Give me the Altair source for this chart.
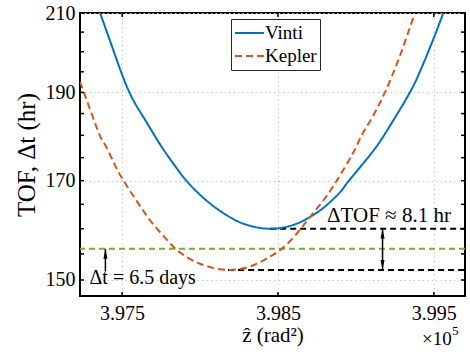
import altair as alt
import pandas as pd

# ---- data (z in units of 1e5 rad^2, TOF in hours) ----
vinti_z = [3.97359, 3.9745, 3.97547, 3.9765, 3.9775, 3.9785, 3.97912, 3.9800, 3.9810,
           3.9820, 3.9830, 3.9845, 3.9860, 3.9870, 3.9880, 3.9890, 3.98951, 3.9910,
           3.9920, 3.9930, 3.99346, 3.9940, 3.9950, 3.9956]
vinti_tof = [210.0, 199.7, 190.0, 183.4, 177.6, 172.7, 170.0, 167.0, 164.3,
             162.2, 160.8, 160.0, 160.8, 162.3, 164.5, 167.6, 169.8, 176.0,
             181.1, 187.0, 190.0, 194.1, 203.5, 210.0]
kepler_z = [3.9723, 3.9735, 3.97387, 3.9745, 3.97504, 3.9760, 3.9770, 3.9780, 3.97846,
            3.9790, 3.9800, 3.9818, 3.9835, 3.9845, 3.98525, 3.9862, 3.98706, 3.9880,
            3.98877, 3.9898, 3.99037, 3.9910, 3.99186, 3.9928, 3.99378]
kepler_tof = [192.6, 180.6, 178.1, 173.7, 170.3, 165.4, 160.9, 157.4, 155.9,
              154.7, 153.1, 151.9, 152.9, 154.5, 156.0, 159.0, 162.4, 166.2,
              170.0, 175.9, 180.0, 183.8, 190.0, 198.7, 210.0]
series_names = ["Vinti", "Kepler"]
series_colors = ["#0072BD", "#D95319"]

dt_hours = 156.0           # 6.5 days
vinti_min = [3.9845, 160.0]
kepler_min = [3.9818, 151.9]

z_domain = [3.9723, 3.997]
tof_domain = [147, 210]
z_ticks = [3.975, 3.985, 3.995]
tof_ticks = [150, 170, 190, 210]
tof_minor = [150, 155, 160, 165, 170, 175, 180, 185, 190, 195, 200, 205, 210]

arrow_z = 3.99171
dt_arrow = [3.97393, 151.6]
dtof_label = [3.98815, 161.4, "ΔTOF ≈ 8.1 hr"]
dt_label = [3.97291, 149.2, "Δt = 6.5 days"]

FONT = "Liberation Serif"
W, H = 385, 283

curves = pd.DataFrame(
    [{"z": z, "tof": t, "series": "Vinti"} for z, t in zip(vinti_z, vinti_tof)]
    + [{"z": z, "tof": t, "series": "Kepler"} for z, t in zip(kepler_z, kepler_tof)]
)

xs = alt.Scale(domain=z_domain, nice=False, zero=False)
ys = alt.Scale(type="log", domain=tof_domain, nice=False, zero=False)
xaxis = alt.Axis(values=z_ticks, format=".3f", ticks=False, tickSize=0, domain=False,
                 labelPadding=7, title="ẑ (rad²)", titlePadding=1, titleFontSize=21,
                 titleColor="black")
yaxis = alt.Axis(values=tof_ticks, format="d", ticks=False, tickSize=0, domain=False,
                 labelPadding=5, title="TOF, Δt (hr)", titlePadding=6, titleFontSize=25,
                 titleColor="black")
X = alt.X("z:Q", scale=xs, axis=xaxis)
Y = alt.Y("tof:Q", scale=ys, axis=yaxis)

lines = alt.Chart(curves).mark_line(strokeWidth=2, clip=True, interpolate="natural").encode(
    x=X, y=Y,
    color=alt.Color("series:N", title=None,
                    scale=alt.Scale(domain=series_names, range=series_colors)),
    strokeDash=alt.StrokeDash("series:N", title=None,
                              scale=alt.Scale(domain=series_names, range=[[1, 0], [7, 4]])),
    order=alt.Order("z:Q"),
)

green = alt.Chart(pd.DataFrame({"tof": [dt_hours]})).mark_rule(
    color="#77AC30", strokeWidth=2, strokeDash=[6, 4]).encode(y=Y)

black_df = pd.DataFrame({"z": [vinti_min[0], kepler_min[0]],
                         "z2": [z_domain[1], z_domain[1]],
                         "tof": [vinti_min[1], kepler_min[1]]})
black = alt.Chart(black_df).mark_rule(color="black", strokeWidth=2, strokeDash=[6, 4]).encode(
    x=X, x2="z2:Q", y=Y)

arr_df = pd.DataFrame({"z": [arrow_z], "tof": [kepler_min[1]], "tof2": [vinti_min[1]]})
arrow_rule = alt.Chart(arr_df).mark_rule(color="black", strokeWidth=1.5).encode(
    x=X, y=Y, y2="tof2:Q")
head_up_df = pd.DataFrame({"z": [arrow_z, dt_arrow[0]], "tof": [vinti_min[1], dt_hours]})
head_up = alt.Chart(head_up_df).mark_point(
    shape="M0,-1L-0.4,1L0.4,1Z", filled=True, color="black", opacity=1, size=100,
    yOffset=5).encode(x=X, y=Y)
head_dn = alt.Chart(pd.DataFrame({"z": [arrow_z], "tof": [kepler_min[1]]})).mark_point(
    shape="M0,1L-0.4,-1L0.4,-1Z", filled=True, color="black", opacity=1, size=100,
    yOffset=-5).encode(x=X, y=Y)
dt_rule = alt.Chart(pd.DataFrame({"z": [dt_arrow[0]], "tof": [dt_arrow[1]], "tof2": [dt_hours]})).mark_rule(
    color="black", strokeWidth=1.5).encode(x=X, y=Y, y2="tof2:Q")

labels_df = pd.DataFrame({"z": [dtof_label[0], dt_label[0]],
                          "tof": [dtof_label[1], dt_label[1]],
                          "txt": [dtof_label[2], dt_label[2]],
                          "fs": [21, 20]})
labels = alt.Chart(labels_df).mark_text(align="left", baseline="alphabetic", font=FONT,
                                        color="black").encode(
    x=X, y=Y, text="txt:N", size=alt.Size("fs:Q", scale=None, legend=None))

ytick_df = pd.DataFrame({"tof": tof_minor})
ytl = alt.Chart(ytick_df).mark_rule(color="black", strokeWidth=1.5).encode(
    y=Y, x=alt.value(0), x2=alt.value(4))
ytr = alt.Chart(ytick_df).mark_rule(color="black", strokeWidth=1.5).encode(
    y=Y, x=alt.value(W), x2=alt.value(W - 4))
xtick_df = pd.DataFrame({"z": z_ticks})
xtb = alt.Chart(xtick_df).mark_rule(color="black", strokeWidth=1.5).encode(
    x=X, y=alt.value(H), y2=alt.value(H - 4))
xtt = alt.Chart(xtick_df).mark_rule(color="black", strokeWidth=1.5).encode(
    x=X, y=alt.value(0), y2=alt.value(4))

mult = alt.Chart(pd.DataFrame({"t": ["×10"]})).mark_text(
    align="left", baseline="alphabetic", font=FONT, fontSize=19, color="black").encode(
    x=alt.value(342), y=alt.value(332), text="t:N")
expo = alt.Chart(pd.DataFrame({"t": ["5"]})).mark_text(
    align="left", baseline="alphabetic", font=FONT, fontSize=13, color="black").encode(
    x=alt.value(372), y=alt.value(322), text="t:N")

chart = alt.layer(
    green, black, lines, arrow_rule, head_up, head_dn, dt_rule, labels,
    ytl, ytr, xtb, xtt, mult, expo
).properties(
    width=W, height=H, autosize="none",
    padding={"left": 80, "top": 13, "right": 5, "bottom": 65},
).configure_view(
    stroke="black", strokeWidth=2
).configure_axis(
    labelFont=FONT, labelFontSize=20, labelColor="black",
    titleFont=FONT, titleColor="black", titleFontWeight="normal",
    grid=True, gridColor="#c8c8c8", gridDash=[1.5, 3], gridWidth=1,
).configure_legend(
    orient="none", legendX=151, legendY=6, padding=3,
    strokeColor="#262626", fillColor="white",
    labelFont=FONT, labelFontSize=19, labelColor="black", labelOffset=0,
    symbolType="stroke", symbolSize=841, symbolStrokeWidth=2,
    clipHeight=22, rowPadding=1,
)

chart.save("out.html", embed_options={"renderer": "svg", "actions": False})
